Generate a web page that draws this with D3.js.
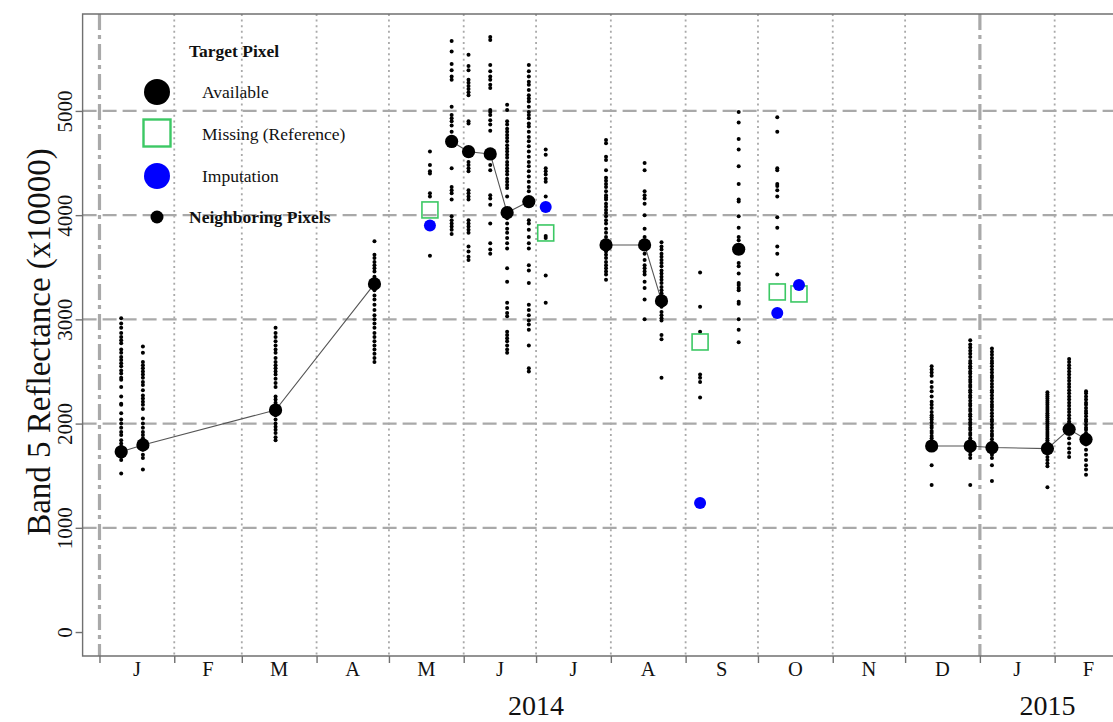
<!DOCTYPE html>
<html>
<head>
<meta charset="utf-8">
<script src="https://cdn.jsdelivr.net/npm/d3@7"></script>
<style>
  html, body { margin: 0; padding: 0; background: #fff; }
  svg { display: block; font-family: "Liberation Serif", "Times New Roman", serif; }
</style>
</head>
<body>
<svg id="chart" width="1113" height="722"></svg>
<script>
// Acquisition dates of the target pixel time series
const dates = ["2014-01-10","2014-01-19","2014-03-15","2014-04-25","2014-05-18","2014-05-27",
  "2014-06-03","2014-06-12","2014-06-19","2014-06-28","2014-07-05","2014-07-30","2014-08-15",
  "2014-08-22","2014-09-07","2014-09-23","2014-10-09","2014-10-18","2014-12-12","2014-12-28",
  "2015-01-06","2015-01-29","2015-02-07","2015-02-14"];

// Target pixel reflectance where observed (null = missing)
const available = [1730, 1795, 2130, 3340, null, 4707, 4609, 4587, 4024, 4130, null, 3714, 3714,
  3177, null, 3673, null, null, 1785, 1785, 1770, 1760, 1945, 1849];

// Withheld reference values and their imputed estimates
const missingDates = ["2014-05-18","2014-07-05","2014-09-07","2014-10-09","2014-10-18"];
const reference = [4050, 3829, 2783, 3263, 3244];
const imputed = [3900, 4078, 1238, 3061, 3330];

// Neighboring pixel values on each acquisition date (same order as dates)
const neighbors = [
  [3010,2960,2920,2870,2830,2800,2770,2710,2680,2640,2610,2580,2550,2510,2480,2440,2420,2350,2260,2190,2180,2100,2040,2000,1960,1920,1890,1840,1810,1780,1680,1650,1520],
  [2740,2680,2590,2560,2530,2500,2470,2440,2400,2370,2320,2270,2240,2210,2180,2140,2050,2000,1960,1920,1890,1860,1830,1750,1700,1670,1560],
  [2920,2870,2830,2790,2750,2710,2680,2630,2590,2560,2530,2500,2470,2430,2390,2350,2260,2230,2200,2160,2080,2040,2000,1970,1940,1910,1870,1840],
  [3750,3620,3590,3550,3520,3490,3460,3410,3280,3230,3190,3140,3090,3040,3000,2960,2920,2870,2830,2790,2750,2710,2670,2630,2590],
  [4610,4480,4420,4400,4210,4180,3610],
  [5670,5570,5450,5390,5330,5300,5040,4960,4930,4900,4860,4800,4450,4270,4240,4210,4150,3990,3950,3920,3890,3860,3820],
  [5540,5430,5390,5300,5270,5240,5210,5180,5150,4900,4880,4510,4480,4450,4420,4240,4210,4180,4150,3950,3920,3890,3860,3830,3700,3650,3600,3570],
  [5710,5680,5440,5380,5330,5300,5250,5220,5010,4990,4960,4910,4870,4810,4480,4430,4190,4160,4100,3920,3730,3670,3630],
  [5060,5010,4900,4870,4830,4800,4770,4740,4710,4670,4640,4610,4580,4550,4510,4480,4450,4420,4390,4350,4320,4290,4260,4180,3970,3920,3870,3830,3780,3730,3680,3490,3360,3160,3110,3060,3030,2880,2850,2820,2790,2750,2710,2680],
  [5440,5380,5330,5280,5250,5200,5150,5120,5090,5040,4990,4960,4930,4880,4850,4800,4750,4710,4660,4610,4560,4510,4470,4420,4370,4320,4270,4230,3950,3920,3860,3790,3730,3680,3520,3470,3350,3140,3090,3040,2990,2950,2900,2750,2530,2500],
  [4630,4580,4450,4420,4390,4350,4320,4180,3800,3780,3420,3160],
  [4720,4690,4560,4530,4430,4360,4330,4300,4270,4230,4190,4170,4150,4110,4080,4050,4020,3990,3950,3920,3870,3830,3790,3650,3620,3590,3550,3520,3490,3460,3430,3380],
  [4500,4430,4230,4190,4160,4110,4000,3870,3790,3630,3570,3520,3490,3460,3430,3360,3300,3190,3000],
  [3740,3700,3670,3630,3600,3570,3540,3510,3470,3440,3410,3380,3350,3310,3280,3250,3120,3070,3040,3010,2990,2850,2810,2440],
  [3450,3120,2880,2470,2440,2400,2250],
  [4990,4890,4730,4630,4470,4300,4150,4130,3990,3880,3790,3760,3540,3510,3440,3350,3330,3300,3280,3170,3150,3000,2900,2780],
  [4940,4800,4450,4430,4300,4280,4240,4180,3980,3880,3700,3630,3430],
  [],
  [2550,2520,2490,2460,2400,2350,2310,2260,2210,2180,2150,2110,2080,2060,2040,2010,1980,1960,1930,1910,1880,1860,1830,1810,1600,1410],
  [2800,2760,2730,2700,2670,2640,2600,2580,2550,2530,2500,2480,2450,2420,2400,2370,2350,2320,2300,2270,2250,2220,2190,2170,2140,2120,2090,2070,2040,2010,1990,1960,1940,1910,1890,1860,1840,1810,1730,1700,1670,1410],
  [2720,2690,2660,2630,2600,2580,2550,2520,2490,2460,2440,2410,2380,2350,2320,2300,2270,2240,2210,2180,2160,2130,2100,2070,2040,2020,1990,1960,1930,1900,1880,1850,1820,1700,1670,1600,1450],
  [2300,2280,2260,2240,2220,2200,2180,2160,2140,2120,2100,2080,2060,2040,2020,2000,1980,1960,1940,1920,1900,1880,1860,1840,1820,1800,1680,1650,1620,1590,1390],
  [2620,2590,2560,2530,2500,2470,2440,2410,2380,2350,2320,2290,2260,2230,2200,2170,2140,2110,2080,2050,2020,2000,1980,1860,1810,1760,1720,1680],
  [2310,2290,2260,2230,2200,2180,2150,2120,2100,2070,2040,2020,1990,1960,1940,1910,1890,1870,1800,1750,1700,1650,1600,1560,1510]
];

// Axis labelling
const yTicks = [0, 1000, 2000, 3000, 4000, 5000];
const yGrid = [1000, 2000, 3000, 4000, 5000];
const monthLabels = ["J","F","M","A","M","J","J","A","S","O","N","D","J","F"];
const yearLabels = ["2014", "2015"];
const yearLabelDates = ["2014-07-01", "2015-01-29"];
const yearStarts = ["2014-01-01", "2015-01-01"];

const parse = d3.utcParse("%Y-%m-%d");
const svg = d3.select("#chart");

const plotL = 82.6, plotT = 14, plotB = 656, plotR = 1122.2;
const x = d3.scaleUtc()
  .domain([parse("2013-12-25"), parse("2015-03-01")])
  .range([plotL, plotR]);
const y = d3.scaleLinear().domain([-230, 5930]).range([plotB, plotT]);

const gridColor = "#a9a9a9";
const frameColor = "#707070";

// Horizontal dashed grid
svg.append("g").selectAll("line").data(yGrid).join("line")
  .attr("x1", plotL).attr("x2", plotR)
  .attr("y1", d => y(d)).attr("y2", d => y(d))
  .attr("stroke", gridColor).attr("stroke-width", 2.2)
  .attr("stroke-dasharray", "14,6");

// Month boundaries: dotted, year starts drawn as dash-dot
const monthStarts = d3.utcMonth.range(parse("2014-01-01"), parse("2015-03-02"));
const yearSet = new Set(yearStarts);
const fmt = d3.utcFormat("%Y-%m-%d");
svg.append("g").selectAll("line").data(monthStarts.filter(d => !yearSet.has(fmt(d)))).join("line")
  .attr("x1", d => x(d)).attr("x2", d => x(d))
  .attr("y1", plotT).attr("y2", plotB)
  .attr("stroke", gridColor).attr("stroke-width", 1.8)
  .attr("stroke-dasharray", "2,3.6");
svg.append("g").selectAll("line").data(yearStarts.map(parse)).join("line")
  .attr("x1", d => x(d)).attr("x2", d => x(d))
  .attr("y1", plotT).attr("y2", plotB)
  .attr("stroke", gridColor).attr("stroke-width", 3.2)
  .attr("stroke-dasharray", "16,5,4,5");

// Frame
svg.append("path")
  .attr("d", `M${plotR},${plotT}H${plotL}V${plotB}H${plotR}`)
  .attr("fill", "none").attr("stroke", frameColor).attr("stroke-width", 1.4);

// Y axis
const yAxis = svg.append("g").attr("transform", `translate(${plotL},0)`)
  .call(d3.axisLeft(y).tickValues(yTicks).tickSize(7).tickPadding(10).tickFormat(d3.format("d")));
yAxis.select(".domain").remove();
yAxis.selectAll(".tick line").attr("stroke", frameColor).attr("stroke-width", 1.4);
yAxis.selectAll(".tick text")
  .attr("x", null).attr("dy", null)
  .attr("transform", "translate(-11,0) rotate(-90)")
  .attr("text-anchor", "middle")
  .attr("font-size", 21).attr("fill", "#111")
  .attr("font-family", "Liberation Serif, Times New Roman, serif");

// X axis ticks at month boundaries
const xAxis = svg.append("g").attr("transform", `translate(0,${plotB})`)
  .call(d3.axisBottom(x).tickValues(monthStarts).tickSize(7).tickFormat(""));
xAxis.select(".domain").remove();
xAxis.selectAll(".tick line").attr("stroke", frameColor).attr("stroke-width", 1.4);

// Month letters centred in each month
const monthMid = monthStarts.slice(0, monthLabels.length).map(d => {
  const next = d3.utcMonth.offset(d, 1);
  return new Date((d.getTime() + next.getTime()) / 2);
});
svg.append("g").selectAll("text").data(monthLabels).join("text")
  .attr("x", (d, i) => x(monthMid[i]))
  .attr("y", 676)
  .attr("text-anchor", "middle")
  .attr("font-size", 20.5).attr("fill", "#111")
  .text(d => d);

// Year labels
svg.append("g").selectAll("text").data(yearLabels).join("text")
  .attr("x", (d, i) => x(parse(yearLabelDates[i])))
  .attr("y", 715)
  .attr("text-anchor", "middle")
  .attr("font-size", 28).attr("fill", "#111")
  .text(d => d);

// Y axis title
svg.append("text")
  .attr("transform", "translate(50,342) rotate(-90)")
  .attr("text-anchor", "middle")
  .attr("font-size", 33).attr("fill", "#111")
  .text("Band 5 Reflectance (x10000)");

// Target pixel line, broken at missing observations
const series = dates.map((d, i) => ({ date: parse(d), value: available[i] }));
svg.append("path")
  .datum(series)
  .attr("fill", "none").attr("stroke", "#555").attr("stroke-width", 1.1)
  .attr("d", d3.line().defined(d => d.value != null).x(d => x(d.date)).y(d => y(d.value)));

// Neighboring pixels
const nbPoints = neighbors.flatMap((vals, i) => vals.map(v => ({ date: parse(dates[i]), value: v })));
svg.append("g").selectAll("circle").data(nbPoints).join("circle")
  .attr("cx", d => x(d.date)).attr("cy", d => y(d.value))
  .attr("r", 2).attr("fill", "#000");

// Available target observations
svg.append("g").selectAll("circle").data(series.filter(d => d.value != null)).join("circle")
  .attr("cx", d => x(d.date)).attr("cy", d => y(d.value))
  .attr("r", 6.6).attr("fill", "#000");

// Reference (withheld) values
const sq = 16;
svg.append("g").selectAll("rect").data(reference).join("rect")
  .attr("x", (d, i) => x(parse(missingDates[i])) - sq / 2)
  .attr("y", d => y(d) - sq / 2)
  .attr("width", sq).attr("height", sq)
  .attr("fill", "none").attr("stroke", "#3cc864").attr("stroke-width", 1.6);

// Imputed values
svg.append("g").selectAll("circle").data(imputed).join("circle")
  .attr("cx", (d, i) => x(parse(missingDates[i])))
  .attr("cy", d => y(d))
  .attr("r", 6).attr("fill", "#0000ff");

// Legend
const lg = svg.append("g").attr("font-size", 17.5).attr("fill", "#111");
lg.append("text").attr("x", 189).attr("y", 57).attr("font-weight", "bold").text("Target Pixel");
lg.append("circle").attr("cx", 157).attr("cy", 92).attr("r", 13).attr("fill", "#000");
lg.append("text").attr("x", 202).attr("y", 98).text("Available");
lg.append("rect").attr("x", 157 - 13.5).attr("y", 133 - 13.5).attr("width", 27).attr("height", 27)
  .attr("fill", "none").attr("stroke", "#3cc864").attr("stroke-width", 2.4);
lg.append("text").attr("x", 202).attr("y", 140).text("Missing (Reference)");
lg.append("circle").attr("cx", 157).attr("cy", 176).attr("r", 13).attr("fill", "#0000ff");
lg.append("text").attr("x", 202).attr("y", 182).text("Imputation");
lg.append("circle").attr("cx", 157).attr("cy", 217).attr("r", 6.5).attr("fill", "#000");
lg.append("text").attr("x", 189).attr("y", 223).attr("font-weight", "bold").text("Neighboring Pixels");
</script>
</body>
</html>
